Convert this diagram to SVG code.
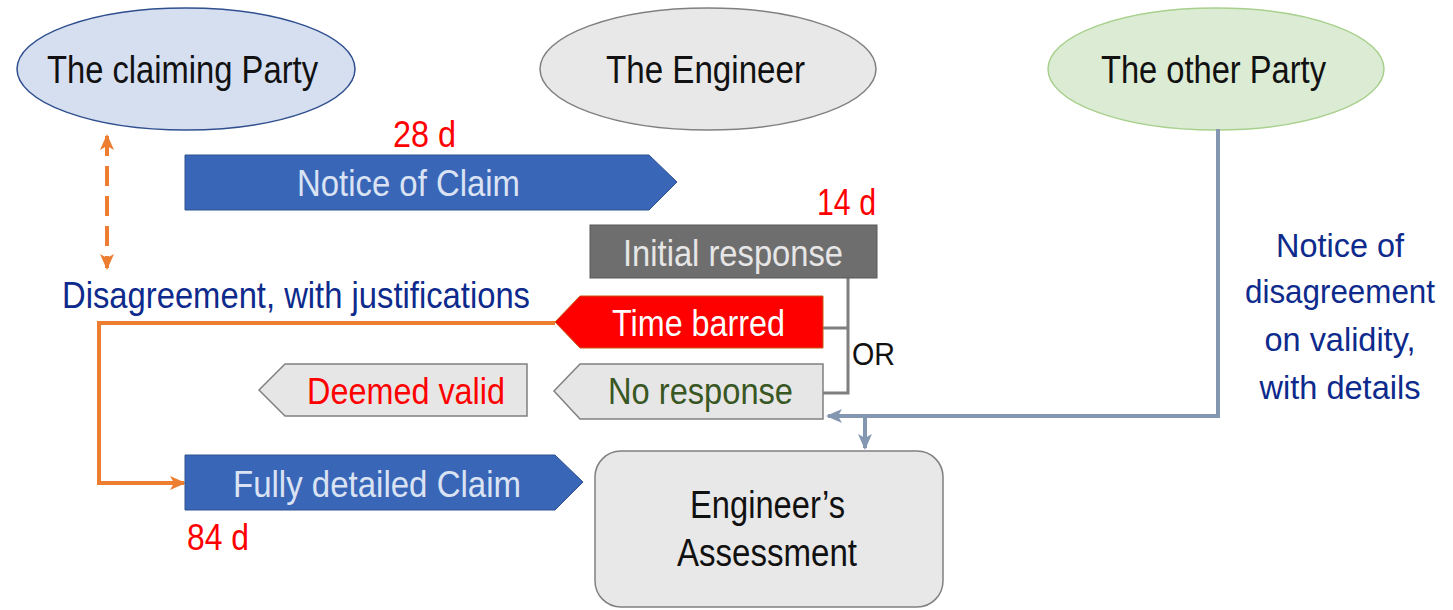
<svg xmlns="http://www.w3.org/2000/svg" width="1453" height="610" viewBox="0 0 1453 610">
  <style>
    text { font-family: "Liberation Sans", Arial, sans-serif; }
    .party { font-size: 38px; fill: #111111; }
    .lbl { font-size: 37px; }
    .days { font-size: 36px; fill: #ff0000; }
    .navy { font-size: 36px; fill: #0d2a8c; }
    .navy-s { font-size: 34px; fill: #0d2a8c; }
    .orange { fill: none; stroke: #ed7d31; stroke-width: 4; }
    .slate { fill: none; stroke: #8497b0; stroke-width: 4; }
    .grey { fill: none; stroke: #7f7f7f; stroke-width: 3; }
  </style>
  <defs>
    <marker id="arrOrange" markerUnits="userSpaceOnUse" markerWidth="16" markerHeight="16" refX="14" refY="8" orient="auto-start-reverse">
      <path d="M0,1 L16,8 L0,15 L4,8 z" fill="#ed7d31"/>
    </marker>
    <marker id="arrSlate" markerUnits="userSpaceOnUse" markerWidth="16" markerHeight="16" refX="14" refY="8" orient="auto">
      <path d="M0,1 L16,8 L0,15 L4,8 z" fill="#8497b0"/>
    </marker>
  </defs>

  <!-- parties -->
  <g id="claiming-party">
    <ellipse cx="186" cy="69" rx="169" ry="61" fill="#d6dff0" stroke="#2f4f8f" stroke-width="1.5"/>
    <text class="party" x="47" y="83" textLength="271" lengthAdjust="spacingAndGlyphs">The claiming Party</text>
  </g>
  <g id="engineer">
    <ellipse cx="708" cy="69" rx="168" ry="61" fill="#e8e8e8" stroke="#808080" stroke-width="1.5"/>
    <text class="party" x="606" y="83" textLength="199" lengthAdjust="spacingAndGlyphs">The Engineer</text>
  </g>
  <g id="other-party">
    <ellipse cx="1216" cy="69" rx="168" ry="61" fill="#dcebd3" stroke="#a8d08d" stroke-width="1.5"/>
    <text class="party" x="1101" y="83" textLength="225" lengthAdjust="spacingAndGlyphs">The other Party</text>
  </g>

  <!-- connectors -->
  <g id="connectors">
    <!-- claiming party <-> disagreement (dashed, both ways) -->
    <path class="orange" d="M107,136 L107,268" stroke-dasharray="20 10" marker-start="url(#arrOrange)" marker-end="url(#arrOrange)"/>
    <!-- time barred -> fully detailed claim -->
    <path class="orange" d="M555,323 L99,323 L99,483 L184,483" marker-end="url(#arrOrange)"/>
    <!-- initial response branches -->
    <path class="grey" d="M848,278 L848,393 L823,393 M823,328 L848,328"/>
    <!-- other party notice -->
    <path class="slate" d="M1218,129 L1218,416 L828,416" marker-end="url(#arrSlate)"/>
    <path class="slate" d="M865,416 L865,448" marker-end="url(#arrSlate)"/>
  </g>

  <g id="days-28">
    <text class="days" x="393" y="147" textLength="63" lengthAdjust="spacingAndGlyphs">28 d</text>
  </g>
  <g id="notice-of-claim">
    <path d="M185,155 L649,155 L677,182 L649,210 L185,210 z" fill="#3a66b8" stroke="#2f528f" stroke-width="1"/>
    <text class="lbl" x="297" y="196" fill="#dae3f3" textLength="223" lengthAdjust="spacingAndGlyphs">Notice of Claim</text>
  </g>

  <g id="days-14">
    <text class="days" x="817" y="215" textLength="59" lengthAdjust="spacingAndGlyphs">14 d</text>
  </g>
  <g id="initial-response">
    <rect x="590" y="225" width="287" height="53" fill="#6e6e6e" stroke="#595959" stroke-width="1"/>
    <text class="lbl" x="623" y="266" fill="#e7e6e6" textLength="220" lengthAdjust="spacingAndGlyphs">Initial response</text>
  </g>

  <g id="disagreement">
    <text class="navy" x="62" y="308" textLength="468" lengthAdjust="spacingAndGlyphs">Disagreement, with justifications</text>
  </g>

  <g id="time-barred">
    <path d="M823,296 L580,296 L555,322 L580,348 L823,348 z" fill="#ff0000" stroke="#c55a11" stroke-width="1"/>
    <text class="lbl" x="612" y="336" fill="#ffffff" textLength="173" lengthAdjust="spacingAndGlyphs">Time barred</text>
  </g>

  <g id="or-label">
    <text x="852" y="365" font-size="31" fill="#111111" textLength="43" lengthAdjust="spacingAndGlyphs">OR</text>
  </g>

  <g id="no-response">
    <path d="M823,364 L580,364 L554,391 L580,419 L823,419 z" fill="#e7e6e6" stroke="#808080" stroke-width="1.5"/>
    <text class="lbl" x="608" y="404" fill="#385723" textLength="185" lengthAdjust="spacingAndGlyphs">No response</text>
  </g>

  <g id="deemed-valid">
    <path d="M527,364 L285,364 L259,390 L285,416 L527,416 z" fill="#e7e6e6" stroke="#808080" stroke-width="1.5"/>
    <text class="lbl" x="307" y="404" fill="#ff0000" textLength="198" lengthAdjust="spacingAndGlyphs">Deemed valid</text>
  </g>

  <g id="other-party-notice">
    <text class="navy-s" x="1340" y="257" text-anchor="middle" textLength="128" lengthAdjust="spacingAndGlyphs">Notice of</text>
    <text class="navy-s" x="1340" y="303" text-anchor="middle" textLength="190" lengthAdjust="spacingAndGlyphs">disagreement</text>
    <text class="navy-s" x="1340" y="351" text-anchor="middle" textLength="151" lengthAdjust="spacingAndGlyphs">on validity,</text>
    <text class="navy-s" x="1340" y="399" text-anchor="middle" textLength="161" lengthAdjust="spacingAndGlyphs">with details</text>
  </g>

  <g id="fully-detailed-claim">
    <path d="M185,455 L555,455 L583,482 L555,510 L185,510 z" fill="#3a66b8" stroke="#2f528f" stroke-width="1"/>
    <text class="lbl" x="233" y="497" fill="#dae3f3" textLength="288" lengthAdjust="spacingAndGlyphs">Fully detailed Claim</text>
  </g>
  <g id="days-84">
    <text class="days" x="187" y="550" textLength="62" lengthAdjust="spacingAndGlyphs">84 d</text>
  </g>

  <g id="engineers-assessment">
    <rect x="595" y="451" width="348" height="156" rx="26" ry="26" fill="#e8e8e8" stroke="#808080" stroke-width="1.5"/>
    <text class="party" x="690" y="518" textLength="155" lengthAdjust="spacingAndGlyphs">Engineer’s</text>
    <text class="party" x="677" y="566" textLength="180" lengthAdjust="spacingAndGlyphs">Assessment</text>
  </g>
</svg>
